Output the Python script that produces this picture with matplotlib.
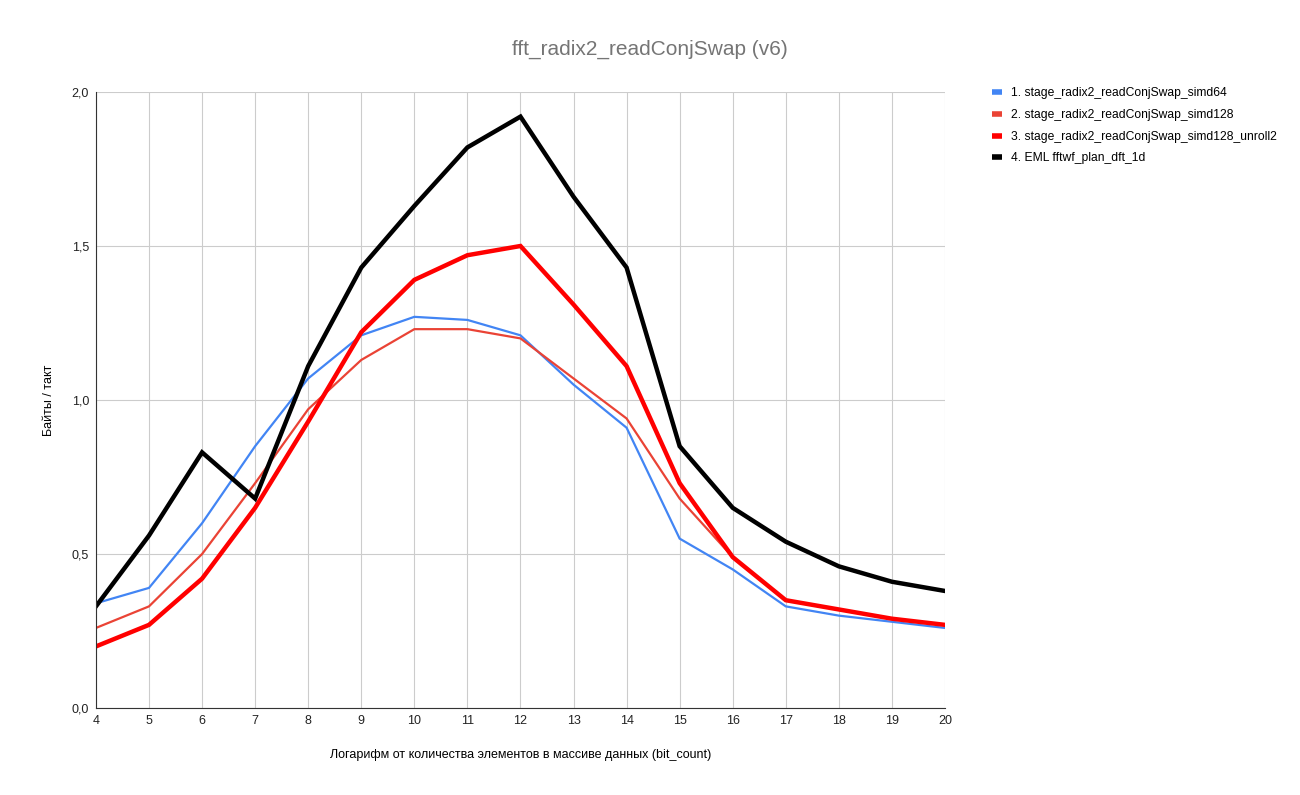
import matplotlib
matplotlib.use("Agg")
import matplotlib.pyplot as plt
from matplotlib.lines import Line2D

# данные
bit_count = list(range(4, 21))
simd64 = [0.34, 0.39, 0.60, 0.85, 1.07, 1.21, 1.27, 1.26, 1.21, 1.05, 0.91, 0.55, 0.45, 0.33, 0.30, 0.28, 0.26]
simd128 = [0.26, 0.33, 0.50, 0.73, 0.97, 1.13, 1.23, 1.23, 1.20, 1.07, 0.94, 0.68, 0.49, 0.35, 0.32, 0.29, 0.27]
simd128_unroll2 = [0.20, 0.27, 0.42, 0.65, 0.93, 1.22, 1.39, 1.47, 1.50, 1.31, 1.11, 0.73, 0.49, 0.35, 0.32, 0.29, 0.27]
eml_fftw = [0.33, 0.56, 0.83, 0.68, 1.11, 1.43, 1.63, 1.82, 1.92, 1.66, 1.43, 0.85, 0.65, 0.54, 0.46, 0.41, 0.38]

names = ["1. stage_radix2_readConjSwap_simd64",
         "2. stage_radix2_readConjSwap_simd128",
         "3. stage_radix2_readConjSwap_simd128_unroll2",
         "4. EML fftwf_plan_dft_1d"]
colors = ["#4285F4", "#EA4335", "#FF0000", "#000000"]
widths = [1.6, 1.6, 3.2, 3.2]

plt.rcParams['font.family'] = ['Liberation Sans', 'DejaVu Sans']

fig = plt.figure(figsize=(13, 7.95), dpi=100)
ax = fig.add_axes([0.0738, 0.1094, 0.6531, 0.7749])

series = [simd64, simd128, simd128_unroll2, eml_fftw]
for s, c, w in zip(series, colors, widths):
    ax.plot(bit_count, s, color=c, linewidth=w, solid_joinstyle='miter')

ax.set_xlim(4, 20)
ax.set_ylim(0, 2.0)
ax.set_xticks(bit_count)
ax.set_yticks([0, 0.5, 1.0, 1.5, 2.0])
ax.set_yticklabels([f"{v:.1f}".replace(".", ",") for v in [0, 0.5, 1.0, 1.5, 2.0]])
ax.grid(True, color="#cccccc", linewidth=0.8)
ax.set_axisbelow(True)
for side in ["top", "right"]:
    ax.spines[side].set_visible(False)
ax.spines["left"].set_color("#333333")
ax.spines["bottom"].set_color("#333333")
ax.tick_params(length=0, labelsize=9, colors="#222222", pad=5)

ax.set_xlabel("Логарифм от количества элементов в массиве данных (bit_count)", fontsize=9, labelpad=16)
ax.set_ylabel("Байты / такт", fontsize=9, labelpad=12)
fig.suptitle("fft_radix2_readConjSwap (v6)", fontsize=15, color="#757575", y=0.95)

handles = [Line2D([0], [0], color=c, linewidth=4, solid_capstyle='butt') for c in colors]
ax.legend(handles, names, loc="upper left", bbox_to_anchor=(1.043, 1.025), frameon=False,
          fontsize=8.7, handlelength=0.8, handletextpad=0.75, labelspacing=0.8)

fig.savefig("out.png", dpi=100)
